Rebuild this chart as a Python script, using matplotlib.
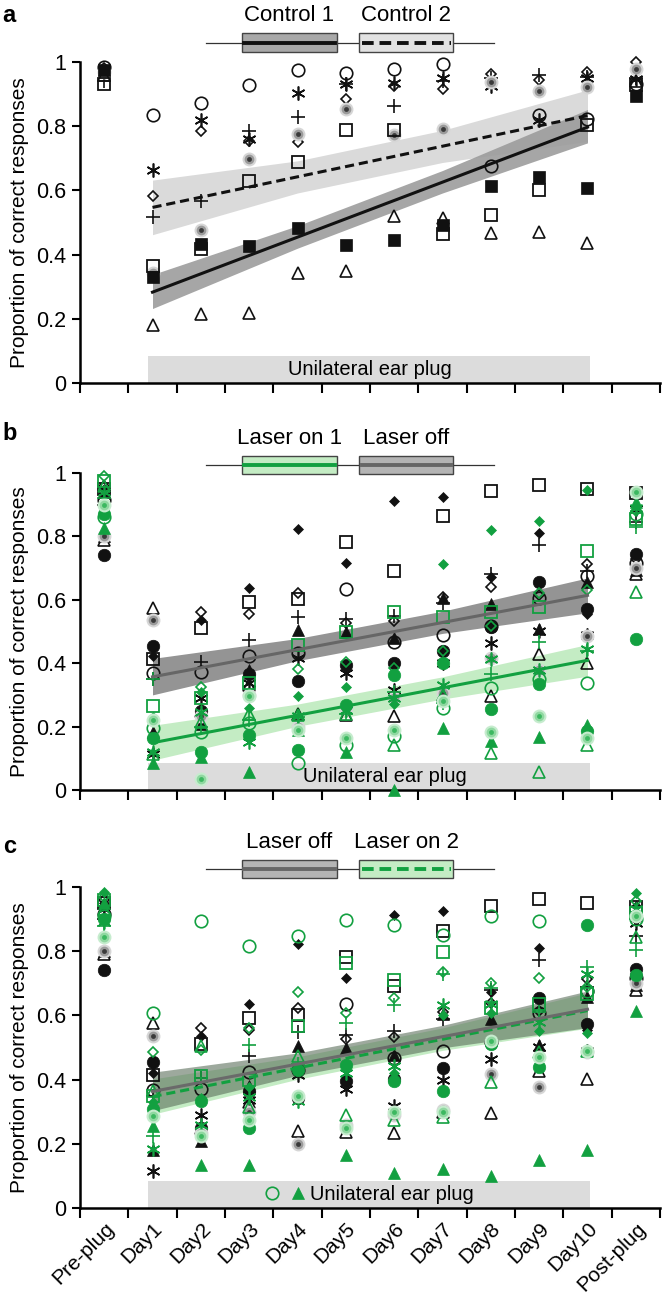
import matplotlib
matplotlib.use('Agg')
import matplotlib.pyplot as plt
from matplotlib import font_manager
from matplotlib.patches import Rectangle
import numpy as np

# ---------------- data ----------------
days = ['Pre-plug', 'Day1', 'Day2', 'Day3', 'Day4', 'Day5', 'Day6', 'Day7',
        'Day8', 'Day9', 'Day10', 'Post-plug']

# panel a (control animals)
a_circle = [0.985, 0.835, 0.873, 0.929, 0.974, 0.967, 0.979, 0.995, 0.677, 0.835, 0.823, 0.93]
a_star = [0.97, 0.665, 0.818, 0.76, 0.903, 0.932, 0.935, 0.95, 0.925, 0.818, 0.95, 0.948]
a_diamond = [0.98, 0.583, 0.786, 0.755, 0.75, 0.885, 0.925, 0.917, 0.962, 0.945, 0.968, 1.0]
a_plus = [0.94, 0.516, 0.568, 0.786, 0.828, 0.93, 0.862, 0.94, 0.95, 0.96, 0.953, 0.95]
a_gdot = [0.97, 0.342, 0.477, 0.698, 0.776, 0.853, 0.772, 0.79, 0.939, 0.911, 0.921, 0.978]
a_osq = [0.93, 0.365, 0.417, 0.63, 0.69, 0.788, 0.788, 0.463, 0.523, 0.602, 0.805, 0.928]
a_fsq = [0.975, 0.33, 0.432, 0.427, 0.484, 0.43, 0.447, 0.493, 0.613, 0.641, 0.607, 0.893]
a_tri = [0.96, 0.18, 0.214, 0.219, 0.344, 0.35, 0.519, 0.514, 0.468, 0.471, 0.437, 0.94]

# laser off (same animals in b and c)
off_osq = [0.95, 0.413, 0.512, 0.593, 0.602, 0.781, 0.691, 0.864, 0.942, 0.963, 0.951, 0.938]
off_fdiam = [0.95, 0.422, 0.537, 0.637, 0.823, 0.716, 0.912, 0.925, 0.672, 0.81, 0.555, 0.94]
off_odiam = [0.96, 0.535, 0.562, 0.556, 0.623, 0.527, 0.533, 0.61, 0.64, 0.615, 0.712, 0.73]
off_ocirc = [0.915, 0.369, 0.371, 0.424, 0.431, 0.635, 0.467, 0.488, 0.518, 0.607, 0.675, 0.717]
off_fcirc = [0.74, 0.454, 0.249, 0.365, 0.343, 0.395, 0.402, 0.437, 0.515, 0.655, 0.572, 0.743]
off_plus = [0.90, 0.35, 0.404, 0.472, 0.547, 0.54, 0.55, 0.59, 0.68, 0.774, 0.69, 0.847]
off_star = [0.93, 0.115, 0.289, 0.337, 0.415, 0.37, 0.317, 0.40, 0.465, 0.503, 0.49, 0.888]
off_ftri = [0.80, 0.182, 0.208, 0.38, 0.506, 0.50, 0.478, 0.605, 0.588, 0.507, 0.657, 0.695]
off_otri = [0.79, 0.575, 0.25, 0.33, 0.239, 0.237, 0.234, 0.30, 0.295, 0.428, 0.402, 0.68]
off_gdot = [0.80, 0.535, 0.233, 0.30, 0.199, 0.26, 0.291, 0.306, 0.416, 0.378, 0.485, 0.70]

# laser on 1 (panel b, green)
on1_osq = [0.974, 0.265, 0.29, 0.337, 0.457, 0.499, 0.563, 0.547, 0.563, 0.577, 0.753, 0.855]
on1_fdiam = [0.895, 0.231, 0.31, 0.26, 0.298, 0.325, 0.27, 0.713, 0.819, 0.85, 0.947, 0.934]
on1_odiam = [0.99, 0.215, 0.325, 0.30, 0.382, 0.403, 0.385, 0.44, 0.516, 0.62, 0.63, 0.88]
on1_ocirc = [0.86, 0.196, 0.184, 0.21, 0.086, 0.142, 0.17, 0.258, 0.322, 0.35, 0.336, 0.87]
on1_fcirc = [0.87, 0.163, 0.12, 0.174, 0.126, 0.267, 0.362, 0.40, 0.254, 0.335, 0.186, 0.477]
on1_plus = [0.92, 0.35, 0.20, 0.22, 0.231, 0.24, 0.31, 0.275, 0.365, 0.467, 0.44, 0.83]
on1_star = [0.94, 0.121, 0.245, 0.15, 0.232, 0.252, 0.289, 0.33, 0.414, 0.38, 0.446, 0.89]
on1_ftri = [0.826, 0.085, 0.105, 0.058, 0.19, 0.12, 0.0, 0.195, 0.155, 0.168, 0.205, 0.908]
on1_otri = [0.96, 0.115, 0.215, 0.241, 0.236, 0.24, 0.142, 0.30, 0.118, 0.058, 0.142, 0.625]
on1_gdot = [0.90, 0.22, 0.034, 0.295, 0.188, 0.163, 0.19, 0.28, 0.184, 0.235, 0.163, 0.94]

# laser on 2 (panel c, green)
on2_osq = [0.96, 0.35, 0.412, 0.40, 0.566, 0.763, 0.711, 0.797, 0.622, 0.637, 0.668, 0.92]
on2_fdiam = [0.985, 0.33, 0.343, 0.378, 0.44, 0.44, 0.42, 0.60, 0.606, 0.55, 0.544, 0.98]
on2_odiam = [0.97, 0.486, 0.491, 0.56, 0.672, 0.607, 0.654, 0.734, 0.70, 0.715, 0.69, 0.955]
on2_ocirc = [0.91, 0.608, 0.893, 0.815, 0.848, 0.898, 0.883, 0.852, 0.911, 0.893, 0.675, 0.90]
on2_fcirc = [0.90, 0.308, 0.332, 0.25, 0.43, 0.447, 0.395, 0.363, 0.51, 0.44, 0.881, 0.727]
on2_plus = [0.88, 0.225, 0.405, 0.508, 0.45, 0.576, 0.633, 0.73, 0.684, 0.61, 0.751, 0.803]
on2_star = [0.89, 0.185, 0.26, 0.347, 0.334, 0.42, 0.441, 0.633, 0.637, 0.58, 0.73, 0.93]
on2_ftri = [0.95, 0.254, 0.135, 0.135, 0.047, 0.166, 0.109, 0.12, 0.10, 0.15, 0.181, 0.613]
on2_otri = [0.93, 0.365, 0.506, 0.316, 0.472, 0.291, 0.275, 0.285, 0.392, 0.487, 0.49, 0.845]
on2_gdot = [0.844, 0.286, 0.223, 0.275, 0.35, 0.25, 0.30, 0.30, 0.52, 0.47, 0.49, 0.91]
c_extra_circle_x = [3.48]
c_extra_circle_y = [0.047]

# regression fits (value at Day1 and Day10) and CI bounds at Day1, Day4, Day7, Day10
fit_days = [1, 10]
ci_days = [1, 4, 7, 10]
a_fit1 = [0.283, 0.797]
a_ci1_lo = [0.232, 0.42, 0.592, 0.748]
a_ci1_hi = [0.338, 0.49, 0.662, 0.852]
a_fit2 = [0.547, 0.833]
a_ci2_lo = [0.462, 0.592, 0.687, 0.753]
a_ci2_hi = [0.632, 0.692, 0.787, 0.913]
b_fit_off = [0.357, 0.614]
b_ci_off_lo = [0.30, 0.408, 0.494, 0.559]
b_ci_off_hi = [0.415, 0.478, 0.564, 0.669]
b_fit_on = [0.149, 0.409]
b_ci_on_lo = [0.094, 0.201, 0.287, 0.359]
b_ci_on_hi = [0.204, 0.271, 0.357, 0.459]
c_fit_off = [0.363, 0.619]
c_ci_off_lo = [0.303, 0.413, 0.499, 0.562]
c_ci_off_hi = [0.423, 0.483, 0.569, 0.676]
c_fit_on = [0.347, 0.615]
c_ci_on_lo = [0.292, 0.401, 0.491, 0.56]
c_ci_on_hi = [0.402, 0.471, 0.561, 0.67]

band_x = [0.9, 10.05]
band_top = 0.085
band_label = 'Unilateral ear plug'
yticks = [0, 0.2, 0.4, 0.6, 0.8, 1]
ytick_labels = ['0', '0.2', '0.4', '0.6', '0.8', '1']

# ---------------- style ----------------
available = {f.name for f in font_manager.fontManager.ttflist}
FONT = 'Liberation Sans Narrow' if 'Liberation Sans Narrow' in available else 'Liberation Sans'
plt.rcParams['font.family'] = [FONT, 'DejaVu Sans']

BLACK = '#111111'
GREEN = '#12a040'
LGREEN = '#c4ecc4'

W, H = 664, 1301
fig = plt.figure(figsize=(W / 100, H / 100), dpi=100)


def axes_px(top, bottom, left=80, right=660):
    return fig.add_axes([left / W, 1 - bottom / H, (right - left) / W, (bottom - top) / H])


x = np.arange(len(days))


def draw(ax, kind, y, color, z=3):
    kw = dict(ls='none', clip_on=False, zorder=z)
    if kind == 'osq':
        ax.plot(x, y, marker='s', ms=8.5, mfc='none', mec=color, mew=1.3, **kw)
    elif kind == 'fsq':
        ax.plot(x, y, marker='s', ms=8.5, mfc=color, mec=color, mew=0.5, **kw)
    elif kind == 'fdiam':
        ax.plot(x, y, marker='D', ms=5.2, mfc=color, mec=color, mew=0.5, **kw)
    elif kind == 'odiam':
        ax.plot(x, y, marker='D', ms=5.6, mfc='none', mec=color, mew=1.2, **kw)
    elif kind == 'ocirc':
        ax.plot(x, y, marker='o', ms=9.0, mfc='none', mec=color, mew=1.2, **kw)
    elif kind == 'fcirc':
        ax.plot(x, y, marker='o', ms=9.0, mfc=color, mec=color, mew=0.5, **kw)
    elif kind == 'plus':
        ax.plot(x, y, marker='+', ms=10, mec=color, mew=1.2, **kw)
    elif kind == 'star':
        ax.plot(x, y, marker=(6, 2, 0), ms=10, mec=color, mew=1.2, **kw)
    elif kind == 'ftri':
        ax.plot(x, y, marker='^', ms=9, mfc=color, mec=color, mew=0.5, **kw)
    elif kind == 'otri':
        ax.plot(x, y, marker='^', ms=9, mfc='none', mec=color, mew=1.2, **kw)
    elif kind == 'gdot':
        if color == BLACK:
            c1, c2, c3 = '#d6d6d6', '#9a9a9a', '#3a3a3a'
        else:
            c1, c2, c3 = '#c6ecce', '#8fd8a0', '#3cb860'
        ax.plot(x, y, marker='o', ms=10, mfc=c1, mec='none', **kw)
        ax.plot(x, y, marker='o', ms=7, mfc=c2, mec='none', **kw)
        ax.plot(x, y, marker='o', ms=3.5, mfc=c3, mec='none', **kw)


def style_axes(ax, show_xlabels):
    ax.set_xlim(-0.5, 11.5)
    ax.set_ylim(0, 1)
    for s in ['top', 'right']:
        ax.spines[s].set_visible(False)
    for s in ['left', 'bottom']:
        ax.spines[s].set_linewidth(1.8)
    ax.set_xticks(np.arange(-0.5, 12, 1))
    ax.set_xticklabels([])
    ax.tick_params(axis='x', which='major', length=7, width=1.5, direction='out')
    ax.set_xticks(x, minor=True)
    if show_xlabels:
        ax.set_xticklabels(days, minor=True, rotation=45, ha='right', va='top',
                           rotation_mode='anchor', fontsize=15)
    ax.tick_params(axis='x', which='minor', length=0, pad=8)
    ax.set_yticks(yticks)
    ax.set_yticklabels(ytick_labels, fontsize=15.5)
    ax.tick_params(axis='y', length=6, width=1.5, direction='out', pad=4)
    ax.set_ylabel('Proportion of correct responses', fontsize=15)
    ax.yaxis.set_label_coords(-0.088, 0.5)


def band(ax, tx):
    ax.fill_between(band_x, 0, band_top, color='#dcdcdc', lw=0, zorder=1)
    ax.text(tx, band_top / 2, band_label, ha='center', va='center', fontsize=14.5, zorder=2)


def fit(ax, vals, lo, hi, lcolor, fcolor, ls='-', falpha=1.0, lw=2.2):
    ax.fill_between(ci_days, lo, hi, color=fcolor, alpha=falpha, lw=0, zorder=1.5)
    ax.plot(fit_days, vals, color=lcolor, ls=ls, lw=lw, zorder=5,
            dashes=(3, 1.6) if ls == '--' else (None, None))


def legend_icon(ax, ybox, labels, fills, lcolors, lstyles, ytext):
    ylo, yhi = ybox
    ymid = (ylo + yhi) / 2
    ax.plot([2.11, 8.07], [ymid, ymid], color='#333333', lw=0.9, clip_on=False, zorder=1)
    for (x0, x1), lab, fc, lc, ls in zip([(2.85, 4.82), (5.28, 7.22)], labels, fills, lcolors, lstyles):
        ax.add_patch(Rectangle((x0, ylo), x1 - x0, yhi - ylo, facecolor=fc,
                               edgecolor='#444444', lw=1.0, clip_on=False, zorder=2))
        ax.plot([x0 + 0.05, x1 - 0.05], [ymid, ymid], color=lc, lw=2.8, clip_on=False, zorder=3,
                dashes=(3, 1.5) if ls == '--' else (None, None))
        ax.text((x0 + x1) / 2, ytext, lab, ha='center', va='center', fontsize=16, clip_on=False)


# ---------------- panel a ----------------
ax = axes_px(62, 383)
style_axes(ax, False)
band(ax, 5.5)
fit(ax, a_fit2, a_ci2_lo, a_ci2_hi, BLACK, '#dadada', ls='--')
fit(ax, a_fit1, a_ci1_lo, a_ci1_hi, BLACK, '#9c9c9c', ls='-', falpha=0.9)
for kind, vals in [('ocirc', a_circle), ('star', a_star), ('odiam', a_diamond), ('plus', a_plus),
                   ('gdot', a_gdot), ('osq', a_osq), ('fsq', a_fsq), ('otri', a_tri)]:
    draw(ax, kind, vals, BLACK)
legend_icon(ax, (1.031, 1.089), ['Control 1', 'Control 2'], ['#a8a8a8', '#e2e2e2'],
            [BLACK, BLACK], ['-', '--'], 1.145)
fig.text(0.004, 0.997, 'a', fontsize=17, fontweight='bold', ha='left', va='top')

off_series = [('osq', off_osq), ('fdiam', off_fdiam), ('odiam', off_odiam), ('ocirc', off_ocirc),
              ('fcirc', off_fcirc), ('plus', off_plus), ('star', off_star), ('ftri', off_ftri),
              ('otri', off_otri), ('gdot', off_gdot)]

# ---------------- panel b ----------------
ax = axes_px(473, 790)
style_axes(ax, False)
band(ax, 5.8)
fit(ax, b_fit_on, b_ci_on_lo, b_ci_on_hi, GREEN, LGREEN, ls='-')
fit(ax, b_fit_off, b_ci_off_lo, b_ci_off_hi, '#666666', '#707070', ls='-', falpha=0.75)
for kind, vals in off_series:
    draw(ax, kind, vals, BLACK)
for kind, vals in [('osq', on1_osq), ('fdiam', on1_fdiam), ('odiam', on1_odiam), ('ocirc', on1_ocirc),
                   ('fcirc', on1_fcirc), ('plus', on1_plus), ('star', on1_star), ('ftri', on1_ftri),
                   ('otri', on1_otri), ('gdot', on1_gdot)]:
    draw(ax, kind, vals, GREEN)
legend_icon(ax, (0.997, 1.055), ['Laser on 1', 'Laser off'], [LGREEN, '#b4b4b4'],
            [GREEN, '#666666'], ['-', '-'], 1.11)
fig.text(0.004, 0.676, 'b', fontsize=17, fontweight='bold', ha='left', va='top')

# ---------------- panel c ----------------
ax = axes_px(887, 1208)
style_axes(ax, True)
band(ax, 5.95)
ax.plot(c_extra_circle_x, c_extra_circle_y, ls='none', marker='o', ms=9, mfc='none',
        mec=GREEN, mew=1.2, zorder=3)
fit(ax, c_fit_on, c_ci_on_lo, c_ci_on_hi, GREEN, LGREEN, ls='--')
fit(ax, c_fit_off, c_ci_off_lo, c_ci_off_hi, '#6a6a6a', '#5c705c', ls='-', falpha=0.6)
for kind, vals in off_series:
    draw(ax, kind, vals, BLACK)
for kind, vals in [('osq', on2_osq), ('fdiam', on2_fdiam), ('odiam', on2_odiam), ('ocirc', on2_ocirc),
                   ('fcirc', on2_fcirc), ('plus', on2_plus), ('star', on2_star), ('ftri', on2_ftri),
                   ('otri', on2_otri), ('gdot', on2_gdot)]:
    draw(ax, kind, vals, GREEN)
legend_icon(ax, (1.029, 1.085), ['Laser off', 'Laser on 2'], ['#b4b4b4', LGREEN],
            ['#666666', GREEN], ['-', '--'], 1.14)
fig.text(0.004, 0.358, 'c', fontsize=17, fontweight='bold', ha='left', va='top')

fig.savefig('out.png', dpi=100)
